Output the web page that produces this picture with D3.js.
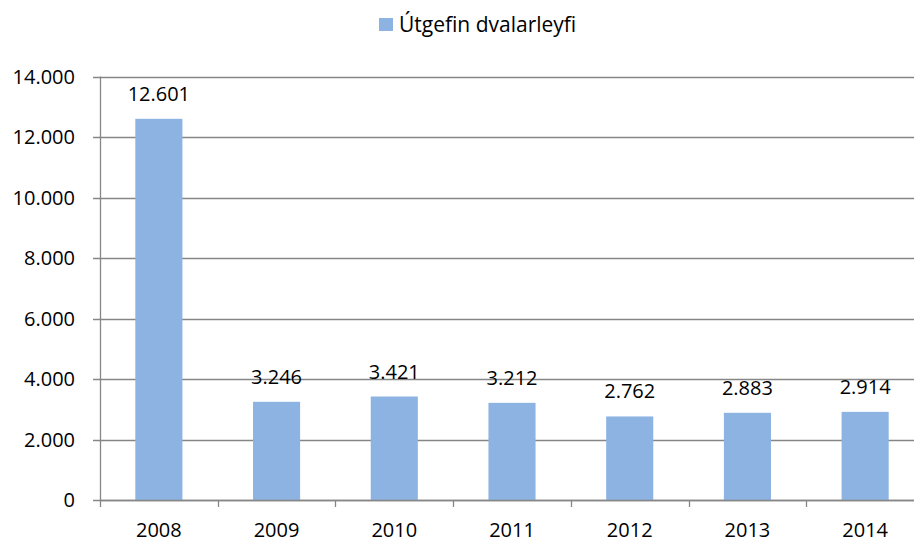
<!DOCTYPE html>
<html>

<head>
    <meta charset="UTF-8">
    <style>
        body { margin: 0; background: #fff; }
        svg text { font-family: "Open Sans", sans-serif; fill: #000; }
    </style>
</head>

<body>
    <script src="https://d3js.org/d3.v7.min.js"></script>
    <div id="chart"></div>
    <script>
        // data
        const years = ["2008", "2009", "2010", "2011", "2012", "2013", "2014"];
        const permits = [12601, 3246, 3421, 3212, 2762, 2883, 2914];
        const yTicks = [0, 2000, 4000, 6000, 8000, 10000, 12000, 14000];
        const seriesName = "Útgefin dvalarleyfi";

        const width = 914, height = 542;
        const plotLeft = 100, plotRight = 924, plotTop = 76.5, plotBottom = 500;

        const fmt = n => d3.format(",")(n).replace(/,/g, ".");

        const svg = d3.select("#chart")
            .append("svg")
            .attr("width", width)
            .attr("height", height);

        const x = d3.scaleBand()
            .domain(years)
            .range([plotLeft, plotRight])
            .padding(0);

        const y = d3.scaleLinear()
            .domain([0, 14000])
            .range([plotBottom, plotTop]);

        const gray = "#868686";

        // gridlines
        svg.append("g")
            .selectAll("line")
            .data(yTicks)
            .enter()
            .append("line")
            .attr("x1", plotLeft - 7)
            .attr("x2", plotRight)
            .attr("y1", d => Math.round(y(d)) + 0.5)
            .attr("y2", d => Math.round(y(d)) + 0.5)
            .attr("stroke", gray)
            .attr("stroke-width", 1.3);

        // y tick labels
        svg.append("g")
            .selectAll("text")
            .data(yTicks)
            .enter()
            .append("text")
            .attr("x", 75)
            .attr("y", d => y(d))
            .attr("dy", "0.36em")
            .attr("text-anchor", "end")
            .style("font-size", "20px")
            .text(d => fmt(d));

        // bars
        const barW = x.bandwidth() * 0.4;
        svg.append("g")
            .selectAll("rect")
            .data(years)
            .enter()
            .append("rect")
            .attr("x", (d) => x(d) + (x.bandwidth() - barW) / 2)
            .attr("y", (d, i) => y(permits[i]))
            .attr("width", barW)
            .attr("height", (d, i) => plotBottom - y(permits[i]))
            .attr("fill", "#8DB3E2");

        // value labels
        svg.append("g")
            .selectAll("text")
            .data(years)
            .enter()
            .append("text")
            .attr("x", d => x(d) + x.bandwidth() / 2)
            .attr("y", (d, i) => y(permits[i]) - 18)
            .attr("text-anchor", "middle")
            .style("font-size", "20px")
            .text((d, i) => fmt(permits[i]));

        // y axis line
        svg.append("line")
            .attr("x1", plotLeft + 0.5).attr("x2", plotLeft + 0.5)
            .attr("y1", plotTop).attr("y2", plotBottom + 7)
            .attr("stroke", gray)
            .attr("stroke-width", 1.3);

        // x axis: line, ticks between categories, labels
        svg.append("line")
            .attr("x1", plotLeft).attr("x2", plotRight)
            .attr("y1", plotBottom + 0.5).attr("y2", plotBottom + 0.5)
            .attr("stroke", gray)
            .attr("stroke-width", 1.3);

        svg.append("g")
            .selectAll("line")
            .data(years.slice(1))
            .enter()
            .append("line")
            .attr("x1", d => Math.round(x(d)) + 0.5)
            .attr("x2", d => Math.round(x(d)) + 0.5)
            .attr("y1", plotBottom)
            .attr("y2", plotBottom + 7)
            .attr("stroke", gray)
            .attr("stroke-width", 1.3);

        svg.append("g")
            .selectAll("text")
            .data(years)
            .enter()
            .append("text")
            .attr("x", d => x(d) + x.bandwidth() / 2)
            .attr("y", 537)
            .attr("text-anchor", "middle")
            .style("font-size", "20px")
            .text(d => d);

        // legend
        svg.append("rect")
            .attr("x", 379)
            .attr("y", 18)
            .attr("width", 14)
            .attr("height", 13)
            .attr("fill", "#8DB3E2");

        svg.append("text")
            .attr("x", 399)
            .attr("y", 32)
            .style("font-size", "21px")
            .text(seriesName);
    </script>
</body>

</html>
